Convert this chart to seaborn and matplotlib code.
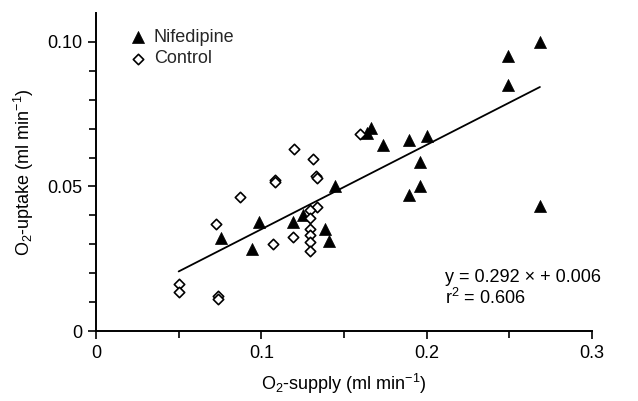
import matplotlib
matplotlib.use("Agg")
import matplotlib.pyplot as plt
import seaborn as sns
import pandas as pd
import numpy as np
from matplotlib.ticker import MultipleLocator, FixedLocator, FixedFormatter

# ---- data ----
nif_x = [0.0757, 0.0945, 0.0987, 0.119, 0.125, 0.1387, 0.141, 0.1445,
         0.1642, 0.1666, 0.1736, 0.1896, 0.200, 0.1958, 0.1958, 0.1896,
         0.2489, 0.2489, 0.2685, 0.2685]
nif_y = [0.032, 0.0284, 0.0376, 0.0378, 0.040, 0.0354, 0.031, 0.050,
         0.0685, 0.0702, 0.0642, 0.0662, 0.0676, 0.0584, 0.0503, 0.0469,
         0.0952, 0.0852, 0.100, 0.0432]

ctl_x = [0.0504, 0.0504, 0.0736, 0.0736, 0.0727, 0.0868, 0.107, 0.108,
         0.1085, 0.119, 0.1198, 0.131, 0.133, 0.1335, 0.1334, 0.1296,
         0.1296, 0.1296, 0.1296, 0.1296, 0.1296, 0.1594]
ctl_y = [0.0163, 0.0136, 0.0121, 0.0111, 0.037, 0.0465, 0.0302, 0.0523,
         0.0515, 0.0325, 0.063, 0.0595, 0.0536, 0.053, 0.0429, 0.0417,
         0.039, 0.0353, 0.0332, 0.0309, 0.0277, 0.0683]

slope = 0.292
intercept = 0.006
r2 = 0.606
line_x = [0.050, 0.2685]

x_ticks = [0, 0.1, 0.2, 0.3]
x_ticklabels = ["0", "0.1", "0.2", "0.3"]
y_ticks = [0, 0.05, 0.10]
y_ticklabels = ["0", "0.05", "0.10"]

# ---- style ----
sns.set_theme(style="white")
plt.rcParams["font.family"] = ["Liberation Sans", "DejaVu Sans"]
plt.rcParams["mathtext.default"] = "regular"
FS = 13

fig = plt.figure(figsize=(6.38, 4.01), dpi=100)
ax = fig.add_axes([96 / 638, 1 - 331 / 401, (592 - 96) / 638, (331 - 13) / 401])

df_n = pd.DataFrame({"x": nif_x, "y": nif_y})
df_c = pd.DataFrame({"x": ctl_x, "y": ctl_y})
line_y = [slope * v + intercept for v in line_x]
df_l = pd.DataFrame({"x": line_x, "y": line_y})

sns.lineplot(data=df_l, x="x", y="y", ax=ax, color="black", linewidth=1.3)
sns.scatterplot(data=df_n, x="x", y="y", ax=ax, marker="^", s=75,
                color="black", edgecolor="black", linewidth=0.5,
                label="Nifedipine", zorder=3)
sns.scatterplot(data=df_c, x="x", y="y", ax=ax, marker="D", s=28,
                facecolor="white", edgecolor="black", linewidth=1.2,
                label="Control", zorder=3)

ax.set_xlim(0, 0.3)
ax.set_ylim(0, 0.11)
ax.xaxis.set_major_locator(FixedLocator(x_ticks))
ax.xaxis.set_major_formatter(FixedFormatter(x_ticklabels))
ax.xaxis.set_minor_locator(MultipleLocator(0.05))
ax.yaxis.set_major_locator(FixedLocator(y_ticks))
ax.yaxis.set_major_formatter(FixedFormatter(y_ticklabels))
ax.yaxis.set_minor_locator(FixedLocator([0.01, 0.02, 0.03, 0.04, 0.06, 0.07, 0.08, 0.09]))

for s in ["top", "right"]:
    ax.spines[s].set_visible(False)
for s in ["left", "bottom"]:
    ax.spines[s].set_color("black")
    ax.spines[s].set_linewidth(1.4)

ax.tick_params(axis="both", which="major", direction="out", length=6, width=1.2,
               color="black", labelsize=FS, labelcolor="black", pad=4,
               left=True, bottom=True)
ax.tick_params(axis="both", which="minor", direction="out", length=5, width=1.2,
               color="black", left=True, bottom=True)

ax.set_xlabel("O$_2$-supply (ml min$^{-1}$)", fontsize=FS, color="black", labelpad=7)
ax.set_ylabel("O$_2$-uptake (ml min$^{-1}$)", fontsize=FS, color="black", labelpad=8)

leg = ax.legend(loc="upper left", bbox_to_anchor=(0.04, 0.99), frameon=False,
                fontsize=FS, handletextpad=0.4, labelspacing=0.25,
                handlelength=1.0, borderaxespad=0.3)

ax.text(0.211, 0.0215, "y = 0.292 \u00d7 + 0.006\nr$^2$ = 0.606",
        fontsize=FS, color="black", ha="left", va="top", linespacing=1.1)

fig.savefig("out.png", dpi=100)
